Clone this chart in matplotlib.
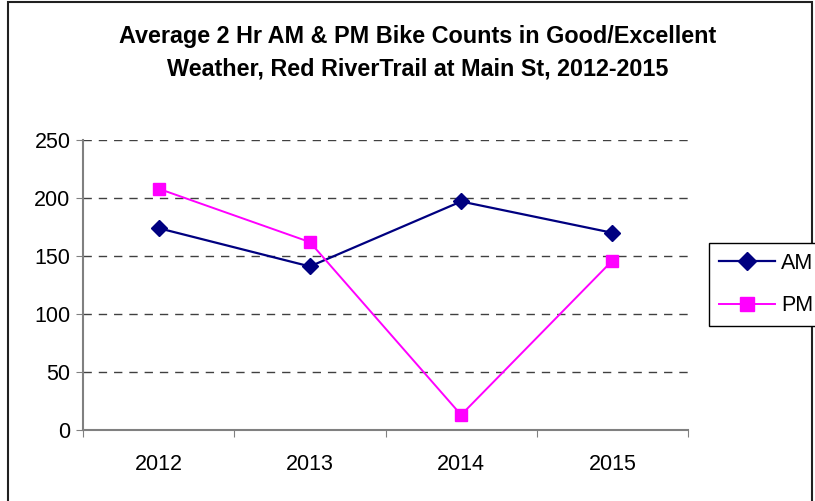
import matplotlib
matplotlib.use('Agg')
import matplotlib.pyplot as plt
from matplotlib.patches import Rectangle

plt.rcParams['font.family'] = ['Liberation Sans', 'DejaVu Sans']

years = ['2012', '2013', '2014', '2015']
am_counts = [174, 141, 197, 170]
pm_counts = [208, 162, 13, 146]
y_ticks = [0, 50, 100, 150, 200, 250]

W, H = 815, 501
fig = plt.figure(figsize=(W / 100, H / 100), dpi=100)
ax = fig.add_axes([83 / W, (H - 430) / H, (688 - 83) / W, (430 - 140) / H])

x = range(len(years))
ax.plot(x, am_counts, color='#000080', marker='D', markersize=8, lw=1.6,
        label='AM', clip_on=False)
ax.plot(x, pm_counts, color='#FF00FF', marker='s', markersize=8.5, lw=1.4,
        label='PM', clip_on=False)

ax.set_xlim(-0.5, len(years) - 0.5)
ax.set_ylim(0, 250)
ax.set_yticks(y_ticks)
ax.set_xticks([i - 0.5 for i in range(len(years) + 1)], minor=False)
ax.set_xticklabels([])
ax.set_xticks(list(x), minor=True)
ax.set_xticklabels(years, minor=True)
ax.tick_params(axis='x', which='minor', length=0, labelsize=15.5, pad=17)
ax.tick_params(axis='x', which='major', length=5, color='#808080')
ax.tick_params(axis='y', length=5, color='#808080', labelsize=15.5, pad=4)

ax.grid(axis='y', linestyle=(0, (6, 5)), color='#404040', lw=1)
ax.set_axisbelow(True)
for s in ['top', 'right']:
    ax.spines[s].set_visible(False)
for s in ['left', 'bottom']:
    ax.spines[s].set_color('#808080')
    ax.spines[s].set_linewidth(1.5)

fig.text(418 / W, 1 - 36 / H, 'Average 2 Hr AM & PM Bike Counts in Good/Excellent',
         ha='center', va='center', fontsize=16.8, fontweight='bold')
fig.text(418 / W, 1 - 69 / H, 'Weather, Red RiverTrail at Main St, 2012-2015',
         ha='center', va='center', fontsize=16.8, fontweight='bold')

leg = fig.legend(loc='upper left', bbox_to_anchor=(709 / W, 1 - 243 / H),
                 fontsize=15.5, fancybox=False, edgecolor='black', framealpha=1,
                 handlelength=2.6, handletextpad=0.3, borderpad=0.45,
                 labelspacing=1.0, borderaxespad=0, markerscale=1.15)
leg.get_frame().set_linewidth(1)

fig.patches.append(Rectangle((8 / W, -0.1), (812 - 8) / W, 1.1 - 2 / H,
                             transform=fig.transFigure, fill=False,
                             edgecolor='#202020', lw=1.5))

fig.savefig('out.png', dpi=100)
